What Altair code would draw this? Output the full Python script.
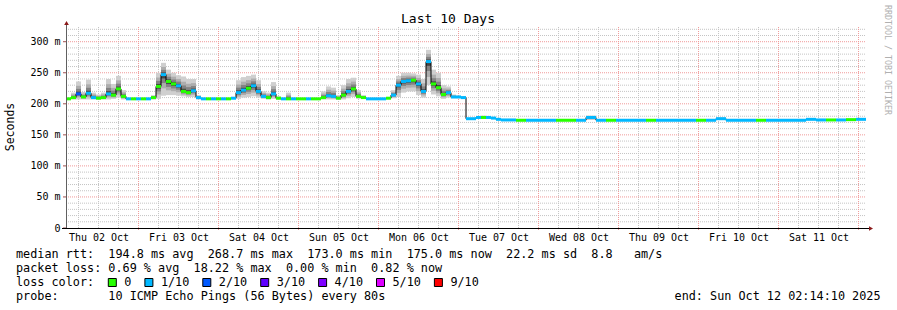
import json
import altair as alt
import pandas as pd

FONT = "DejaVu Sans Mono"
W, H = 800, 202          # plot area
LEFT, TOP = 66, 26       # plot origin inside the 897x310 canvas

title_text = "Last 10 Days"
y_title = "Seconds"
day_labels = ["Thu 02 Oct", "Fri 03 Oct", "Sat 04 Oct", "Sun 05 Oct", "Mon 06 Oct",
              "Tue 07 Oct", "Wed 08 Oct", "Thu 09 Oct", "Fri 10 Oct", "Sat 11 Oct"]
y_ticks = [0, 50, 100, 150, 200, 250, 300]
y_top = 325.3

# time window: hours after Thu 02 Oct 00:00
start_h = 2 + 14 / 60 + 10 / 3600
span_h = 240
step1_h = 1.5   # first part sampled every 1.5 h
step2_h = 3     # flat tail sampled every 3 h

# ---- median rtt (ms), smoke top / bottom (ms), loss class index ----
med_a = [208, 210, 216, 211, 217, 210, 209, 210, 216, 214,
         224, 212, 208, 208, 208, 208, 208, 210, 228, 247,
         236, 232, 229, 220, 218, 221, 210, 208, 208, 208,
         208, 208, 208, 209, 218, 222, 225, 229, 220, 212,
         210, 216, 209, 208, 208, 208, 208, 208, 208, 208,
         208, 210, 213, 212, 209, 214, 220, 224, 212, 210,
         208, 208, 208, 208, 209, 214, 230, 236, 237, 238,
         232, 220, 268, 232, 226, 215, 218, 211, 211, 210,
         176, 176, 178, 178, 178, 177, 175, 174]
hi_a = [208, 218, 236, 219, 239, 218, 215, 218, 240, 232,
        245, 222, 208, 208, 208, 208, 208, 214, 250, 266,
        255, 250, 246, 244, 240, 240, 214, 208, 208, 208,
        208, 208, 208, 210, 238, 243, 245, 247, 238, 220,
        218, 235, 212, 208, 218, 208, 208, 208, 208, 208,
        208, 220, 228, 226, 214, 230, 240, 242, 222, 214,
        208, 208, 208, 208, 210, 222, 245, 250, 250, 249,
        247, 240, 287, 255, 250, 230, 228, 215, 213, 212,
        177, 177, 180, 181, 180, 178, 176, 175]
lo_a = [208, 207, 207, 207, 207, 207, 207, 207, 207, 208,
        210, 207, 208, 208, 208, 208, 208, 207, 208, 213,
        214, 214, 213, 212, 211, 211, 207, 208, 208, 208,
        208, 208, 208, 208, 208, 210, 211, 212, 210, 208,
        207, 208, 207, 208, 208, 208, 208, 208, 208, 208,
        208, 207, 207, 207, 207, 207, 209, 211, 208, 208,
        208, 208, 208, 208, 208, 209, 211, 218, 220, 220,
        214, 210, 230, 215, 212, 208, 210, 209, 209, 209,
        175, 175, 177, 177, 177, 176, 174, 173]
loss_a = [0, 0, 2, 0, 1, 1, 0, 0, 1, 0,
          0, 0, 1, 0, 1, 0, 1, 0, 0, 1,
          0, 0, 1, 0, 0, 1, 1, 1, 0, 1,
          0, 1, 0, 1, 1, 1, 0, 1, 1, 1,
          0, 1, 0, 1, 0, 1, 0, 0, 1, 0,
          0, 0, 1, 1, 0, 0, 1, 0, 0, 0,
          1, 1, 1, 1, 0, 1, 1, 1, 1, 0,
          1, 1, 1, 0, 0, 0, 1, 1, 1, 1,
          1, 1, 1, 0, 1, 1, 1, 1]

med_b = [174, 173.5, 173.5, 173.5, 173.5, 173.5, 173.5, 173.5, 178, 173.5,
         173.5, 173.5, 173.5, 173.5, 173.5, 173.5, 173.5, 173.5, 173.5, 173.5,
         173.5, 176, 173.5, 173.5, 173.5, 173.5, 173.5, 173.5, 173.5, 173.5,
         175, 174, 174, 174, 174.5, 175]
hi_b = [174, 174, 174, 174, 174, 174, 174, 174, 181, 174,
        174, 174, 174, 174, 174, 174, 174, 174, 174, 174,
        174, 178, 174, 174, 174, 174, 174, 174, 174, 174,
        176, 174, 174, 174, 175, 175]
lo_b = [174, 173.5, 173.5, 173.5, 173.5, 173.5, 173.5, 173.5, 174, 173.5,
        173.5, 173.5, 173.5, 173.5, 173.5, 173.5, 173.5, 173.5, 173.5, 173.5,
        173.5, 174, 173.5, 173.5, 173.5, 173.5, 173.5, 173.5, 173.5, 173.5,
        174, 174, 174, 174, 174.5, 175]
loss_b = [1, 0, 1, 1, 1, 0, 0, 1, 1, 1,
          0, 1, 1, 1, 0, 1, 1, 1, 1, 0,
          1, 1, 1, 1, 1, 0, 1, 1, 1, 1,
          1, 1, 0, 1, 0, 1]

loss_names = ["0", "1/10", "2/10", "3/10", "4/10", "5/10", "9/10"]
loss_colors = ["#26ff00", "#00b8ff", "#0059ff", "#5e00ff", "#7e00ff", "#dd00ff", "#ff0000"]

stats_lines = [
    "median rtt:  194.8 ms avg  268.7 ms max  173.0 ms min  175.0 ms now  22.2 ms sd  8.8   am/s",
    "packet loss: 0.69 % avg  18.22 % max  0.00 % min  0.82 % now",
    "loss color:",
    "probe:       10 ICMP Echo Pings (56 Bytes) every 80s",
]
end_line = "end: Sun Oct 12 02:14:10 2025"
credit = "RRDTOOL / TOBI OETIKER"

# ---- build table ----
t0 = [start_h + step1_h * i for i in range(len(med_a))] + \
     [start_h + step1_h * len(med_a) + step2_h * j for j in range(len(med_b))]
t1 = t0[1:] + [start_h + span_h]
med = med_a + med_b
df = pd.DataFrame({
    "t0": t0, "t1": t1, "med": med,
    "hi": hi_a + hi_b, "lo": lo_a + lo_b,
    "prev": [med[0]] + med[:-1],
    "loss": [loss_names[k] for k in loss_a + loss_b],
})

xs = alt.Scale(domain=[start_h, start_h + span_h], nice=False, zero=False)
ys = alt.Scale(domain=[0, y_top], nice=False, zero=False)

x_axis = alt.Axis(
    values=[12 + 24 * k for k in range(len(day_labels))],
    labelExpr=f"{json.dumps(day_labels)}[floor(datum.value / 24)]",
    labelFont=FONT, labelFontSize=10, labelColor="black", labelPadding=4,
    ticks=False, domain=False, grid=False, labelOverlap=False, labelFlush=False)
y_axis = alt.Axis(
    values=y_ticks,
    labelExpr="datum.value == 0 ? '0' : datum.value + ' m'",
    labelFont=FONT, labelFontSize=10, labelColor="black", labelPadding=6,
    ticks=False, domain=False, grid=False, labelOverlap=False, labelFlush=False)


def X(f):
    return alt.X(f, scale=xs, axis=x_axis, title=None)


def Y(f):
    return alt.Y(f, scale=ys, axis=y_axis, title=None)


def nb(s):
    return s.replace(" ", "\u00a0")


one = pd.DataFrame({"k": [0]})
layers = []

# ---- grid ----
h_minor = [h for h in range(6, 241, 6) if h % 24]
h_major = list(range(24, 241, 24))
v_minor = [v for v in range(10, 321, 10) if v % 50]
v_major = [v for v in range(50, 301, 50)]
MINOR = "#c4c4c4"
MAJOR = "#f09a9a"

layers.append(alt.Chart(pd.DataFrame({"h": h_minor})).mark_rule(color=MINOR, strokeDash=[1, 1]).encode(
    x=X("h:Q"), y=alt.value(1), y2=alt.value(H)))
layers.append(alt.Chart(pd.DataFrame({"v": v_minor})).mark_rule(color=MINOR, strokeDash=[1, 1]).encode(
    y=Y("v:Q"), x=alt.value(0), x2=alt.value(W)))
layers.append(alt.Chart(pd.DataFrame({"h": h_major})).mark_rule(color=MAJOR, strokeDash=[1, 1]).encode(
    x=X("h:Q"), y=alt.value(1), y2=alt.value(H + 3)))
layers.append(alt.Chart(pd.DataFrame({"v": v_major})).mark_rule(color=MAJOR, strokeDash=[1, 1]).encode(
    y=Y("v:Q"), x=alt.value(0), x2=alt.value(W)))
layers.append(alt.Chart(pd.DataFrame({"v": y_ticks})).mark_rule(color="#a05050").encode(
    y=Y("v:Q"), x=alt.value(-3), x2=alt.value(0)))

# ---- smoke ----
base = alt.Chart(df)
for f, col in [(1.0, "#cfcfcf"), (0.65, "#adadad"), (0.4, "#838383"), (0.18, "#454545")]:
    layers.append(base.transform_calculate(
        a=f"datum.med - (datum.med - datum.lo) * {f}",
        b=f"datum.med + (datum.hi - datum.med) * {f}",
    ).mark_rect(color=col).encode(
        x=X("t0:Q"), x2="t1:Q", y=Y("a:Q"), y2="b:Q"))

# ---- median line: black step connectors + loss coloured segments ----
layers.append(base.mark_rule(color="black", strokeWidth=1).encode(
    x=X("t0:Q"), y=Y("prev:Q"), y2="med:Q"))

layers.append(base.mark_rule(strokeWidth=3, strokeCap="butt").encode(
    x=X("t0:Q"), x2="t1:Q", y=Y("med:Q"),
    color=alt.Color("loss:N", scale=alt.Scale(domain=loss_names, range=loss_colors), legend=None)))

# ---- axis lines and arrows ----
layers.append(alt.Chart(one).mark_rule(color="#606060").encode(
    x=alt.value(0.5), y=alt.value(-3), y2=alt.value(H)))
layers.append(alt.Chart(one).mark_rule(color="black").encode(
    x=alt.value(-4), x2=alt.value(W + 4), y=alt.value(H + 0.5)))
layers.append(alt.Chart(one).mark_point(shape="triangle-up", filled=True, size=22, color="#8b1a1a", opacity=1).encode(
    x=alt.value(0.5), y=alt.value(-3)))
layers.append(alt.Chart(one).mark_point(shape="triangle-right", filled=True, size=22, color="#8b1a1a", opacity=1).encode(
    x=alt.value(W + 5), y=alt.value(H + 0.5)))


# ---- texts ----
def txt(s, x, y, size, align="left", angle=0, color="black"):
    return alt.Chart(one).mark_text(text=nb(s), font=FONT, fontSize=size, align=align,
                                    baseline="middle", angle=angle, color=color).encode(
        x=alt.value(x), y=alt.value(y))


layers.append(txt(title_text, 448 - LEFT, 19 - TOP, 13, align="center"))
layers.append(txt(y_title, 10.5 - LEFT, 127 - TOP, 11.5, align="center", angle=270))
layers.append(txt(credit, 887 - LEFT, 5 - TOP, 8.3, align="left", angle=90, color="#b0b0b0"))

CW = 7.1
for k, s in enumerate(stats_lines):
    layers.append(txt(s, 16 - LEFT, 254.3 + 14 * k - TOP, 11.8))
layers.append(txt(end_line, 880.5 - LEFT, 296.3 - TOP, 11.8, align="right"))

bx = 108.3
for name, col in zip(loss_names, loss_colors):
    layers.append(alt.Chart(one).mark_square(size=64, color=col, stroke="black", strokeWidth=1,
                                             opacity=1, filled=True).encode(
        x=alt.value(bx + 4 - LEFT), y=alt.value(282.5 - TOP)))
    layers.append(txt(name, bx + 16 - LEFT, 282.3 - TOP, 11.8))
    bx = bx + 16 + len(name) * CW + 13.5

chart = alt.layer(*layers).properties(
    width=W, height=H,
    padding={"left": LEFT, "top": TOP, "right": 897 - LEFT - W, "bottom": 310 - TOP - H},
    autosize=alt.AutoSizeParams(type="none"),
    background="white",
).configure_view(stroke=None)

chart.save("out.html", embed_options={"renderer": "svg", "actions": False})
